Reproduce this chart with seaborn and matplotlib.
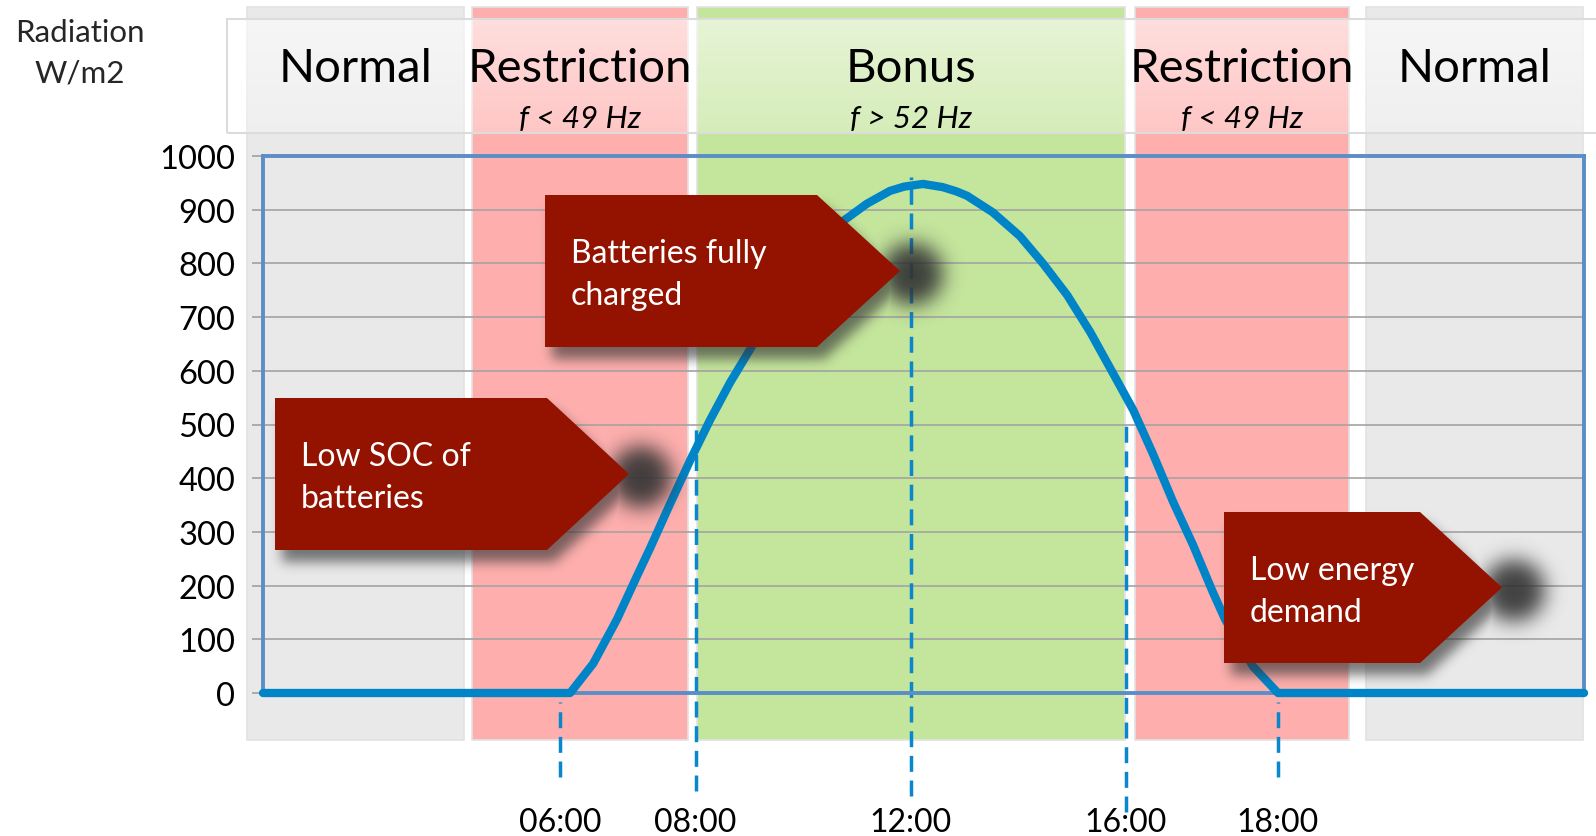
import numpy as np
import matplotlib
matplotlib.use("Agg")
import matplotlib.pyplot as plt
import matplotlib.transforms as mtransforms
from matplotlib.patches import Rectangle, Polygon
from matplotlib.path import Path
import seaborn as sns
import pandas as pd

# ---------------- data ----------------
hours = [0, 5.58, 6.00, 6.43, 6.80, 7.03, 7.39, 7.76, 8.12, 8.48, 8.85, 9.2, 9.6,
         10.0, 10.3, 10.54, 10.97, 11.39, 11.65, 11.99, 12.35, 12.6, 12.79, 13.26,
         13.75, 14.17, 14.61, 15.03, 15.44, 15.81, 16.17, 16.53, 16.90, 17.26,
         17.48, 17.99, 18.44, 24]
radiation = [0, 0, 55, 137, 219, 269, 351, 433, 508, 577, 640, 700, 770,
             825, 858, 879, 911, 935, 943, 948, 942, 934, 926, 895,
             851, 800, 741, 672, 596, 527, 445, 357, 275, 187,
             137, 49, 0, 0]

band_start = [-0.29, 3.80, 7.89, 15.84, 20.04]
band_end = [3.65, 7.72, 15.66, 19.73, 23.98]
band_name = ["Normal", "Restriction", "Bonus", "Restriction", "Normal"]
band_sub = ["", "f < 49 Hz", "f > 52 Hz", "f < 49 Hz", ""]
band_color = ["#e9e9e9", "#feafad", "#c4e59c", "#feafad", "#e9e9e9"]

mark_hour = [5.40, 7.86, 11.77, 15.68, 18.44]
mark_label = ["06:00", "08:00", "12:00", "16:00", "18:00"]
mark_top = [-17, 500, 961, 500, -17]
mark_bottom = [-156, -183, -192, -222, -156]

y_ticks = [0, 100, 200, 300, 400, 500, 600, 700, 800, 900, 1000]

callout_text = [["Low SOC of", "batteries"],
                ["Batteries fully", "charged"],
                ["Low energy", "demand"]]
# callout geometry (figure pixels): left, top, shoulder, tip, bottom
callout_box = [(275, 399, 547, 629, 551),
               (545, 196, 817, 900, 348),
               (1224, 513, 1420, 1502, 664)]

# ---------------- style ----------------
sns.set_theme(style="white")
plt.rcParams["font.family"] = ["Lato", "DejaVu Sans"]

W, H = 1596, 837
fig = plt.figure(figsize=(W / 100, H / 100), dpi=100)
fig.patch.set_facecolor("white")

L, R, T, B = 263, 1584, 157, 694
ax = fig.add_axes([L / W, 1 - B / H, (R - L) / W, (B - T) / H])
ax.patch.set_visible(False)

# bands (extend beyond plot area)
ymin_b = (B - 741) / (B - T)
ymax_b = (B - 8) / (B - T)
for s, e, c in zip(band_start, band_end, band_color):
    ax.axvspan(s, e, ymin=ymin_b, ymax=ymax_b, facecolor=c, edgecolor="#e2e2e2",
               lw=1.2, clip_on=False, zorder=0.1)

# header translucent box with gradient
hx0 = (227 - L) / (R - L)
hx1 = (1630 - L) / (R - L)
hy0 = (B - 134) / (B - T)
hy1 = (B - 20) / (B - T)
nstrip = 24
for i in range(nstrip):
    y0 = hy0 + (hy1 - hy0) * i / nstrip
    a = 0.30 + 0.28 * i / (nstrip - 1)
    ax.add_patch(Rectangle((hx0, y0), hx1 - hx0, (hy1 - hy0) / nstrip,
                           transform=ax.transAxes, facecolor="white", alpha=a,
                           edgecolor="none", clip_on=False, zorder=0.3))
ax.add_patch(Rectangle((hx0, hy0), hx1 - hx0, hy1 - hy0, transform=ax.transAxes,
                       facecolor="none", edgecolor="#dcdcdc", lw=1.5,
                       clip_on=False, zorder=0.35))

blend = mtransforms.blended_transform_factory(ax.transData, ax.transAxes)
for s, e, n, sub in zip(band_start, band_end, band_name, band_sub):
    cx = (s + e) / 2
    ax.text(cx, (B - 69) / (B - T), n, transform=blend, ha="center", va="center",
            fontsize=34, color="black", zorder=5, clip_on=False)
    if sub:
        ax.text(cx, (B - 119) / (B - T), sub, transform=blend, ha="center",
                va="center", fontsize=22.5, style="italic", color="black",
                zorder=5, clip_on=False)

# dashed time markers
ax.vlines(mark_hour, mark_bottom, mark_top, colors="#0a86cc", lw=2.5,
          linestyles=[(0, (4.6, 2.5))], clip_on=False, zorder=1.5)
for h, lab in zip(mark_hour, mark_label):
    ax.text(h, -240, lab, ha="center", va="center", fontsize=23, color="black",
            clip_on=False)

# curve
df = pd.DataFrame({"hour": hours, "radiation": radiation})
sns.lineplot(data=df, x="hour", y="radiation", ax=ax, color="#0084c8",
             linewidth=6.0, sort=False, zorder=3, clip_on=False)
for ln in ax.get_lines():
    ln.set_linewidth(6.0)
    ln.set_solid_joinstyle("round")
    ln.set_solid_capstyle("round")

ax.set_xlim(0, 24)
ax.set_ylim(0, 1000)
ax.set_yticks(y_ticks)
ax.set_yticklabels([str(v) for v in y_ticks])
ax.set_xticks([])
ax.set_xlabel("")
ax.set_ylabel("")
ax.grid(axis="y", color="#a3a3a3", lw=1.2)
ax.grid(axis="x", visible=False)
ax.set_axisbelow(True)
for gl in ax.get_ygridlines():
    gl.set_zorder(1)
ax.tick_params(axis="y", left=True, direction="out", length=8, width=1.2,
               color="#a0a0a0", pad=12, labelsize=23.5, labelcolor="black")
for sp in ax.spines.values():
    sp.set_visible(True)
    sp.set_color("#5b8ec6")
    sp.set_linewidth(2.8)
    sp.set_zorder(2.5)

fig.text(80 / W, 1 - 33 / H, "Radiation", ha="center", va="center", fontsize=22.5)
fig.text(80 / W, 1 - 73 / H, "W/m2", ha="center", va="center", fontsize=22.5)

# ---------------- callouts overlay ----------------
deco = fig.add_axes([0, 0, 1, 1], zorder=5)
deco.patch.set_visible(False)
deco.axis("off")


def gblur(img, sigma):
    r = int(3 * sigma) + 1
    k = np.exp(-np.arange(-r, r + 1) ** 2 / (2 * sigma ** 2))
    k /= k.sum()
    img = np.apply_along_axis(lambda v: np.convolve(v, k, mode="same"), 1, img)
    img = np.apply_along_axis(lambda v: np.convolve(v, k, mode="same"), 0, img)
    return img


for (lft, top, sh, tip, bot), lines in zip(callout_box, callout_text):
    mid = (top + bot) / 2
    verts = [(lft, top), (sh, top), (tip, mid), (sh, bot), (lft, bot)]
    m = 60
    x0, x1 = int(lft - m), int(tip + m + 30)
    y0, y1 = int(top - m), int(bot + m)
    X, Y = np.meshgrid(np.arange(x0, x1) + 0.5, np.arange(y0, y1) + 0.5)
    pts = np.c_[X.ravel(), Y.ravel()]
    shmask = Path(np.array([(vx + 7, vy + 12) for vx, vy in verts])).contains_points(pts)
    shmask = shmask.reshape(X.shape).astype(float)
    cxb, cyb = tip + 12, mid + 3
    disk = (((X - cxb) ** 2 + (Y - cyb) ** 2) < 31 ** 2).astype(float)
    alpha = np.maximum(0.65 * gblur(shmask, 6), 0.92 * gblur(disk, 10))
    rgba = np.zeros(X.shape + (4,))
    rgba[..., :3] = 0.2
    rgba[..., 3] = np.clip(alpha, 0, 1)
    deco.imshow(rgba, extent=(x0, x1, y1, y0), origin="upper", aspect="auto",
                interpolation="bilinear", zorder=1)
    deco.add_patch(Polygon(verts, closed=True, facecolor="#941200",
                           edgecolor="none", zorder=2))
    deco.text(lft + 26, top + 58, lines[0], color="white", fontsize=23,
              fontweight="normal", ha="left", va="center", zorder=3)
    deco.text(lft + 26, top + 100, lines[1], color="white", fontsize=23,
              fontweight="normal", ha="left", va="center", zorder=3)

deco.set_xlim(0, W)
deco.set_ylim(H, 0)

fig.savefig("out.png", dpi=100)
